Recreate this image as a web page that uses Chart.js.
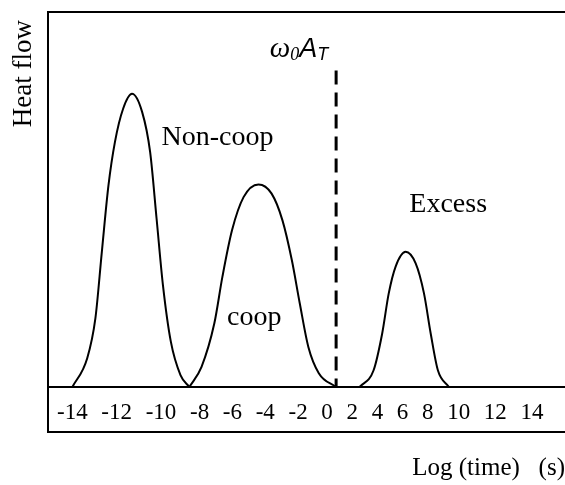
<!DOCTYPE html>
<html>
<head>
<meta charset="utf-8">
<script src="https://cdn.jsdelivr.net/npm/chart.js@4.4.1/dist/chart.umd.min.js"></script>
<style>
    html, body { margin: 0; background: #fff; }
    #wrap { width: 565px; height: 485px; }
</style>
</head>
<body>
<div id="wrap"><canvas id="heatChart"></canvas></div>
<script>
// x axis ticks, log(time) in s
const X_TICKS = [-14, -12, -10, -8, -6, -4, -2, 0, 2, 4, 6, 8, 10, 12, 14];

// heat flow peaks (arbitrary units)
const NONCOOP_X = [-14.0, -13.33, -12.96, -12.67, -12.37, -12.08, -11.71, -11.31, -10.85, -10.49, -10.20, -9.90, -9.49, -8.99, -8.53];
const NONCOOP_Y = [0, 7.7, 18.4, 36.1, 53.9, 65.4, 74.3, 78.3, 73.4, 62.7, 45.0, 27.2, 12.1, 3.2, 0];

const COOP_X = [-8.53, -7.88, -7.10, -6.61, -6.02, -5.32, -4.41, -3.62, -2.95, -2.38, -1.88, -1.29, -0.57, 0.70];
const COOP_Y = [0, 5.4, 17.0, 29.4, 41.9, 50.7, 54.1, 51.7, 44.5, 33.9, 22.3, 10.7, 3.7, 0];

const EXCESS_X = [2.58, 3.69, 4.38, 4.90, 5.44, 6.24, 7.04, 7.70, 8.19, 8.66, 9.37];
const EXCESS_Y = [0, 4.4, 14.3, 25.0, 32.1, 36.1, 33.0, 25.0, 14.3, 4.4, 0];

// ω0·A_T marker
const OMEGA_X = 0.72;
const OMEGA_TOP = 84.5;

const SERIF = '"Liberation Serif", "Times New Roman", serif';
const SANS = '"Liberation Sans", Arial, sans-serif';
const TICK_GAP = 13.7;          // blank space between two tick labels, px
const FRAME_ABOVE_AREA = 8;     // frame top sits a little above the plot area
const FRAME_BELOW_AXIS = 45;    // frame bottom sits under the tick labels

// Ticks laid out like a typed row of numbers: each step is half of both
// label widths plus a fixed gap, so narrow labels sit closer together.
class LabelSpacedScale extends Chart.LinearScale {
    static id = "labelSpaced";

    configure() {
        super.configure();
        const font = Chart.helpers.toFont(this.options.ticks.font);
        this.ctx.save();
        this.ctx.font = font.string;
        const widths = X_TICKS.map(v => this.ctx.measureText(String(v)).width);
        this.ctx.restore();
        this._anchors = [0];
        for (let i = 1; i < X_TICKS.length; i++) {
            this._anchors.push(this._anchors[i - 1] + (widths[i - 1] + widths[i]) / 2 + TICK_GAP);
        }
    }

    toUnits(value) {
        const a = this._anchors;
        let i = 0;
        while (i < X_TICKS.length - 2 && value > X_TICKS[i + 1]) i++;
        return a[i] + (value - X_TICKS[i]) * (a[i + 1] - a[i]) / (X_TICKS[i + 1] - X_TICKS[i]);
    }

    getPixelForValue(value) {
        const lo = this.toUnits(this.min);
        const hi = this.toUnits(this.max);
        return this.getPixelForDecimal((this.toUnits(value) - lo) / (hi - lo));
    }
}
Chart.register(LabelSpacedScale);

const toPoints = (xs, ys) => xs.map((x, i) => ({ x: x, y: ys[i] }));

const curve = (xs, ys) => ({
    data: toPoints(xs, ys),
    borderColor: "#000",
    borderWidth: 2,
    pointRadius: 0,
    fill: false,
    cubicInterpolationMode: "monotone",
    clip: false,
});

// outer box round the plot and the tick row
const framePlugin = {
    id: "frame",
    afterDraw(chart) {
        const { ctx, chartArea } = chart;
        const top = chartArea.top - FRAME_ABOVE_AREA;
        const bottom = chartArea.bottom + FRAME_BELOW_AXIS;
        ctx.save();
        ctx.strokeStyle = "#000";
        ctx.lineWidth = 2;
        ctx.beginPath();
        ctx.moveTo(chart.width + 2, top);
        ctx.lineTo(chartArea.left, top);
        ctx.lineTo(chartArea.left, bottom);
        ctx.lineTo(chart.width + 2, bottom);
        ctx.stroke();
        ctx.restore();
    },
};

// peak names and the ω0A_T label
const notesPlugin = {
    id: "notes",
    afterDatasetsDraw(chart) {
        const { ctx, scales: { x, y } } = chart;
        const notes = [
            { text: "Non-coop", x: -6.91, y: 64.5 },
            { text: "coop", x: -4.67, y: 16.5 },
            { text: "Excess", x: 9.32, y: 46.6 },
        ];
        ctx.save();
        ctx.fillStyle = "#000";
        ctx.textBaseline = "alphabetic";
        ctx.textAlign = "center";
        ctx.font = `28px ${SERIF}`;
        notes.forEach(n => ctx.fillText(n.text, x.getPixelForValue(n.x), y.getPixelForValue(n.y)));

        const runs = [
            { text: "ω", font: `italic 29px ${SERIF}`, dy: 0 },
            { text: "0", font: `italic 18px ${SERIF}`, dy: 3 },
            { text: "A", font: `italic 27px ${SANS}`, dy: 0 },
            { text: "T", font: `italic 18px ${SANS}`, dy: 3 },
        ];
        ctx.textAlign = "left";
        let total = 0;
        runs.forEach(r => { ctx.font = r.font; r.w = ctx.measureText(r.text).width; total += r.w; });
        let px = x.getPixelForValue(-1.94) - total / 2;
        const base = y.getPixelForValue(88.1);
        runs.forEach(r => {
            ctx.font = r.font;
            ctx.fillText(r.text, px, base + r.dy);
            px += r.w;
        });
        ctx.restore();
    },
};

const ctx = document.getElementById("heatChart").getContext("2d");
new Chart(ctx, {
    type: "line",
    data: {
        datasets: [
            curve(NONCOOP_X, NONCOOP_Y),
            curve(COOP_X, COOP_Y),
            curve(EXCESS_X, EXCESS_Y),
            {
                data: [{ x: OMEGA_X, y: OMEGA_TOP }, { x: OMEGA_X, y: 0 }],
                borderColor: "#000",
                borderWidth: 3,
                borderDash: [14, 8],
                pointRadius: 0,
                fill: false,
            },
        ],
    },
    options: {
        responsive: true,
        maintainAspectRatio: false,
        animation: false,
        events: [],
        layout: { padding: { top: 20, right: 0, bottom: 0, left: 0 } },
        plugins: {
            legend: { display: false },
            tooltip: { enabled: false },
        },
        scales: {
            x: {
                type: "labelSpaced",
                min: -15.1,
                max: 15.8,
                afterBuildTicks: scale => { scale.ticks = X_TICKS.map(v => ({ value: v })); },
                grid: { display: false },
                border: { display: true, color: "#000", width: 2 },
                ticks: {
                    autoSkip: false,
                    maxRotation: 0,
                    minRotation: 0,
                    padding: 4,
                    color: "#000",
                    font: { family: SERIF, size: 23 },
                },
                title: {
                    display: true,
                    text: "Log (time)   (s)",
                    align: "end",
                    color: "#000",
                    font: { family: SERIF, size: 25 },
                    padding: { top: 23, bottom: 1.4 },
                },
            },
            y: {
                min: 0,
                max: 98,
                afterFit: scale => { scale.width = 48; },
                grid: { display: false },
                border: { display: false },
                ticks: { display: false },
                title: {
                    display: true,
                    text: "Heat flow",
                    align: "end",
                    color: "#000",
                    font: { family: SERIF, size: 27 },
                    padding: { top: 8, bottom: 0 },
                },
            },
        },
    },
    plugins: [framePlugin, notesPlugin],
});
</script>
</body>
</html>
